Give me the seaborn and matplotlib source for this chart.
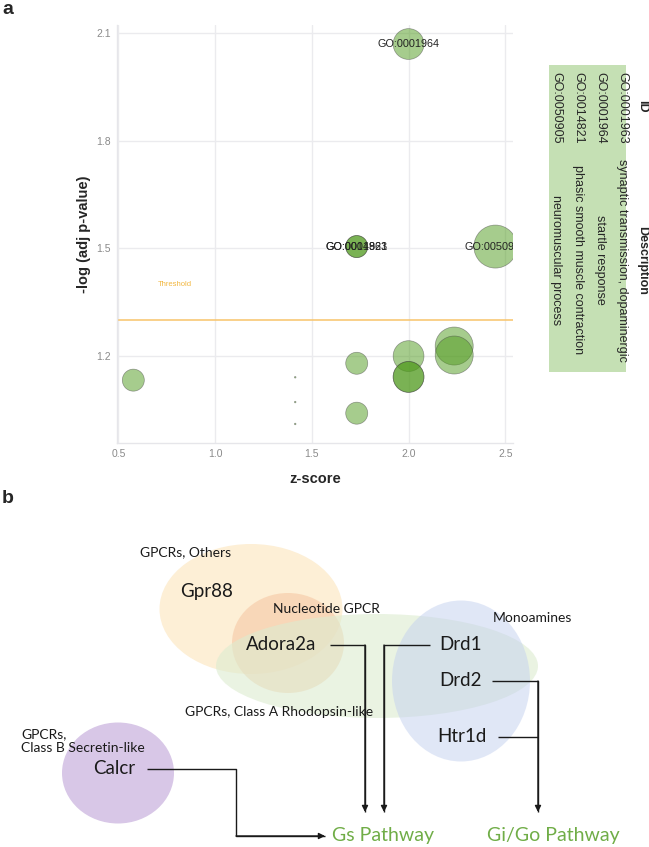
import matplotlib.pyplot as plt
import pandas as pd
import seaborn as sns
from matplotlib.patches import Ellipse, Rectangle

# ---- datos panel a (burbujas GO) ----
go_zscore = [2.0, 1.732, 1.732, 2.449, 0.577, 1.414, 1.414, 1.414, 1.732, 1.732, 2.0, 2.0, 2.0, 2.236, 2.236]
go_logp = [2.069, 1.505, 1.505, 1.505, 1.133, 1.141, 1.072, 1.011, 1.180, 1.041, 1.200, 1.142, 1.142, 1.228, 1.203]
go_count = [4, 3, 3, 6, 3, 1, 1, 1, 3, 3, 4, 4, 4, 5, 5]
go_label = ['GO:0001964', 'GO:0001963', 'GO:0014821', 'GO:0050905', '', '', '', '', '', '', '', '', '', '', '']
threshold = 1.301

x_ticks = [0.5, 1.0, 1.5, 2.0, 2.5]
y_ticks = [1.2, 1.5, 1.8, 2.1]

table_ids = ['GO:0001963', 'GO:0001964', 'GO:0014821', 'GO:0050905']
table_desc = ['synaptic transmission, dopaminergic', 'startle response',
              'phasic smooth muscle contraction', 'neuromuscular process']

# ---- datos panel b (diagrama de receptores) ----
group_names = ['GPCRs, Others', 'Nucleotide GPCR', 'GPCRs, Class A Rhodopsin-like', 'Monoamines',
               'GPCRs,\nClass B Secretin-like']
genes = ['Gpr88', 'Adora2a', 'Drd1', 'Drd2', 'Htr1d', 'Calcr']
pathways = ['Gs Pathway', 'Gi/Go Pathway']

df = pd.DataFrame({'zscore': go_zscore, 'logp': go_logp, 'count': go_count, 'label': go_label})

sns.set_theme(style="whitegrid")
plt.rcParams['font.family'] = ['Liberation Sans', 'DejaVu Sans']

W, H = 649, 847
fig = plt.figure(figsize=(W / 100, H / 100), dpi=100)

# ------------------------------------------
# Panel a
# ------------------------------------------
ax = fig.add_axes([116.5 / W, 1 - 443 / H, (513 - 116.5) / W, (443 - 25) / H])
size_map = {1: 1.3, 3: 251, 4: 492, 5: 749, 6: 958}
sns.scatterplot(data=df, x='zscore', y='logp', size='count', sizes=size_map,
                color='#4f9a1c', alpha=0.5, edgecolor='#404040', linewidth=0.5,
                legend=False, ax=ax, zorder=3)
for _, r in df[df['label'] != ''].iterrows():
    ax.text(r['zscore'], r['logp'], r['label'], ha='center', va='center',
            fontsize=7.8, color='#222222', clip_on=True, zorder=4)
ax.axhline(threshold, color='#f8c46a', lw=1.1, zorder=2)
ax.text(0.79, 1.398, 'Threshold', color='#f2b740', fontsize=5.5, ha='center', va='center')

ax.set_xlim(0.49, 2.54)
ax.set_ylim(0.958, 2.122)
ax.set_xticks(x_ticks)
ax.set_yticks(y_ticks)
ax.set_xticklabels([f'{v:.1f}' for v in x_ticks])
ax.set_yticklabels([f'{v:.1f}' for v in y_ticks])
ax.tick_params(labelsize=7.5, labelcolor='#8a8a8a', length=0, pad=4)
ax.grid(color='#ebebee', lw=1.0)
for s in ['top', 'right']:
    ax.spines[s].set_visible(False)
for s in ['left', 'bottom']:
    ax.spines[s].set_color('#e6e6ea')
    ax.spines[s].set_linewidth(1.0)
ax.set_xlabel('z-score', fontsize=10.5, fontweight='bold', labelpad=9.5)
ax.set_ylabel('-log (adj p-value)', fontsize=10.5, fontweight='bold', labelpad=4)

# tabla rotada a la derecha
fig.patches.append(Rectangle((549 / W, 1 - 372 / H), 77 / W, 307 / H,
                             transform=fig.transFigure, facecolor='#c5e0b4', edgecolor='none'))
fig.text(642 / W, 1 - 106 / H, 'ID', rotation=270, ha='center', va='center',
         fontsize=9, fontweight='bold')
fig.text(642 / W, 1 - 260 / H, 'Description', rotation=270, ha='center', va='center',
         fontsize=9, fontweight='bold')
row_x = [622, 600, 578, 556]
for xp, gid, desc in zip(row_x, table_ids, table_desc):
    fig.text(xp / W, 1 - 108 / H, gid, rotation=270, ha='center', va='center', fontsize=9)
    fig.text(xp / W, 1 - 260 / H, desc, rotation=270, ha='center', va='center', fontsize=9)

fig.text(2 / W, 1 - 10 / H, 'a', fontsize=14, fontweight='bold', va='center')
fig.text(2 / W, 1 - 498 / H, 'b', fontsize=14, fontweight='bold', va='center')

# ------------------------------------------
# Panel b: diagrama
# ------------------------------------------
bx = fig.add_axes([0, 0, 1, (H - 500) / H])
bx.set_xlim(0, W)
bx.set_ylim(H, 500)
bx.axis('off')

ell_center = [(251, 609), (288, 643), (377, 666), (461, 681), (118, 773)]
ell_size = [(183, 130), (112, 100), (322, 104), (138, 161), (112, 101)]
ell_color = ['#fdefd6', '#f6c8a4', '#dcecd0', '#c3d0ef', '#d8c7e7']
ell_alpha = [1.0, 0.6, 0.6, 0.5, 1.0]
for c, s, col, a in zip(ell_center, ell_size, ell_color, ell_alpha):
    bx.add_patch(Ellipse(c, s[0], s[1], facecolor=col, edgecolor='none', alpha=a))

font_b = ['Lato', 'DejaVu Sans']
grp_pos = [(140, 552), (273, 609), (185, 712), (493, 618), (21, 741)]
for name, (x, y) in zip(group_names, grp_pos):
    bx.text(x, y, name, fontsize=10, ha='left', va='center', family=font_b, color='#1a1a1a',
            linespacing=1.15)

gene_pos = [(180, 592), (246, 645), (439, 645), (439, 681), (437, 737), (93, 769)]
for g, (x, y) in zip(genes, gene_pos):
    bx.text(x, y, g, fontsize=13.5, ha='left', va='center', family=font_b, color='#1a1a1a')

path_pos = [(332, 836), (487, 836)]
for p, (x, y) in zip(pathways, path_pos):
    bx.text(x, y, p, fontsize=14, ha='left', va='center', family=font_b, color='#70ad47')

# flechas
lw = 1.0
conn = [
    [(330, 645), (365, 645), (365, 812)],
    [(430, 645), (384, 645), (384, 812)],
    [(492, 681), (538, 681), (538, 812)],
    [(498, 737), (538, 737)],
    [(147, 769), (236, 769), (236, 836), (325, 836)],
]
for pts in conn:
    xs = [p[0] for p in pts]
    ys = [p[1] for p in pts]
    bx.plot(xs, ys, color='#1a1a1a', lw=lw, solid_capstyle='butt')
for pts in [conn[0], conn[1], conn[2], conn[4]]:
    bx.annotate('', xy=pts[-1], xytext=pts[-2],
                arrowprops=dict(arrowstyle='-|>', color='#1a1a1a', lw=lw, mutation_scale=9,
                                shrinkA=0, shrinkB=0))

plt.savefig('out.png', dpi=100)
